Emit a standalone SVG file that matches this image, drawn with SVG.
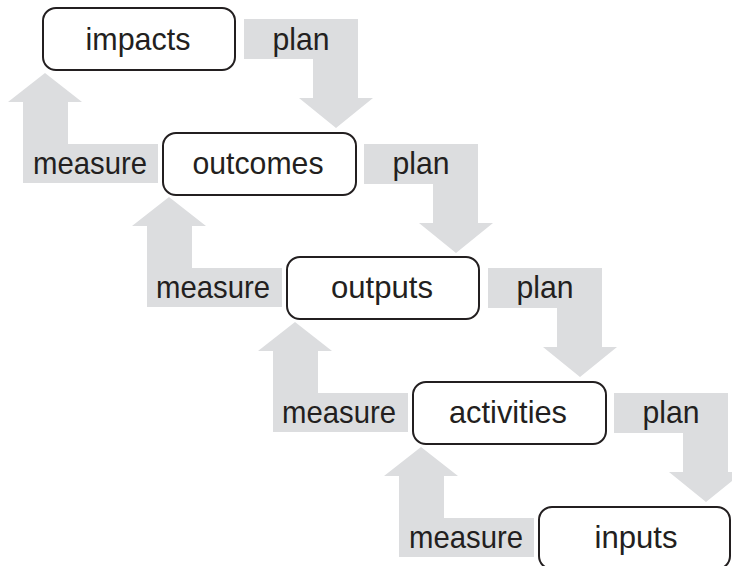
<svg xmlns="http://www.w3.org/2000/svg" width="732" height="566" viewBox="0 0 732 566">
<style>
.arrow{fill:#dcdddf;stroke:none}
.box{fill:#ffffff;stroke:#231f20;stroke-width:2}
text{font-family:"Liberation Sans",Arial,sans-serif;font-size:32px;fill:#231f20;text-anchor:middle}
</style>
<rect width="732" height="566" fill="#ffffff"/>
<g id="connectors">
  <!-- plan arrows -->
  <polygon class="arrow" points="244,19 358,19 358,98 373,98 336,128 299,98 313,98 313,59 244,59"/>
  <polygon class="arrow" points="364,144 478,144 478,223 493,223 456,253 419,223 433,223 433,184 364,184"/>
  <polygon class="arrow" points="488,268 602,268 602,347 617,347 580,377 543,347 557,347 557,308 488,308"/>
  <polygon class="arrow" points="614,393 728,393 728,472 743,472 706,502 669,472 683,472 683,433 614,433"/>
  <!-- measure arrows -->
  <polygon class="arrow" points="158,144 158,183 23,183 23,102 8,102 45,73 82,102 68,102 68,144"/>
  <polygon class="arrow" points="282,268 282,307 147,307 147,226 132,226 169,197 206,226 192,226 192,268"/>
  <polygon class="arrow" points="408,393 408,432 273,432 273,351 258,351 295,322 332,351 318,351 318,393"/>
  <polygon class="arrow" points="534,518 534,557 399,557 399,476 384,476 421,447 458,476 444,476 444,518"/>
  <text x="301" y="50" textLength="57" lengthAdjust="spacingAndGlyphs">plan</text>
  <text x="421" y="174" textLength="57" lengthAdjust="spacingAndGlyphs">plan</text>
  <text x="545" y="298" textLength="57" lengthAdjust="spacingAndGlyphs">plan</text>
  <text x="671" y="423" textLength="57" lengthAdjust="spacingAndGlyphs">plan</text>
  <text x="90" y="174" textLength="114" lengthAdjust="spacingAndGlyphs">measure</text>
  <text x="213" y="298" textLength="114" lengthAdjust="spacingAndGlyphs">measure</text>
  <text x="339" y="423" textLength="114" lengthAdjust="spacingAndGlyphs">measure</text>
  <text x="466" y="548" textLength="114" lengthAdjust="spacingAndGlyphs">measure</text>
</g>
<g id="impacts">
  <rect class="box" x="43" y="8" width="192" height="62" rx="13"/>
  <text x="138" y="50" textLength="105" lengthAdjust="spacingAndGlyphs">impacts</text>
</g>
<g id="outcomes">
  <rect class="box" x="163" y="133" width="193" height="62" rx="13"/>
  <text x="258" y="174" textLength="131" lengthAdjust="spacingAndGlyphs">outcomes</text>
</g>
<g id="outputs">
  <rect class="box" x="287" y="257" width="192" height="62" rx="13"/>
  <text x="382" y="298" textLength="102" lengthAdjust="spacingAndGlyphs">outputs</text>
</g>
<g id="activities">
  <rect class="box" x="413" y="382" width="193" height="62" rx="13"/>
  <text x="508" y="423" textLength="118" lengthAdjust="spacingAndGlyphs">activities</text>
</g>
<g id="inputs">
  <rect class="box" x="539" y="507" width="191" height="62" rx="13"/>
  <text x="636" y="548" textLength="83" lengthAdjust="spacingAndGlyphs">inputs</text>
</g>
</svg>
